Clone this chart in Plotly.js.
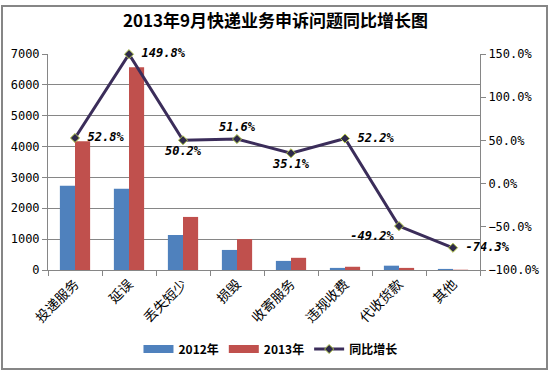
<!DOCTYPE html>
<html><head><meta charset="utf-8">
<script src="https://cdn.plot.ly/plotly-3.0.1.min.js"></script>
<style>html,body{margin:0;padding:0;background:#fff}#c{width:551px;height:375px}</style>
</head><body><div id="c"></div>
<script>
const categories = ["投递服务","延误","丢失短少","损毁","收寄服务","违规收费","代收货款","其他"];
const y2012 = [2730, 2630, 1135, 650, 295, 68, 140, 35];
const y2013 = [4170, 6570, 1720, 1000, 395, 105, 68, 9];
const growth = [52.8, 149.8, 50.2, 51.6, 35.1, 52.2, -49.2, -74.3];
const labelPos = ["middle right","middle right","bottom center","top center","bottom center","middle right","bottom left","middle right"];

const cjk = '"Noto Sans CJK SC", "DejaVu Sans", sans-serif';
const mono = '"DejaVu Sans Mono", monospace';
const data = [
  {type:'bar', name:'2012年', x:categories, y:y2012, marker:{color:'#4f81bd'}, showlegend:false},
  {type:'bar', name:'2013年', x:categories, y:y2013, marker:{color:'#c0504d'}, showlegend:false},
  {type:'scatter', mode:'lines', name:'2012年', x:[null], y:[null], line:{color:'#4f81bd', width:8}},
  {type:'scatter', mode:'lines', name:'2013年', x:[null], y:[null], line:{color:'#c0504d', width:8}},
  {type:'scatter', mode:'lines+markers+text', name:'同比增长', x:categories, y:growth, yaxis:'y2',
   text: growth.map((v,i) => (labelPos[i]==='middle right' ? ' ' : '') + v.toFixed(1) + '%'), textposition: labelPos,
   textfont:{family:mono, size:12, color:'#000', weight:'bold', style:'italic'},
   line:{color:'#3b2d5a', width:3},
   marker:{symbol:'diamond', size:7, color:'#2e2a4a', line:{color:'#b5c94c', width:1}},
   cliponaxis:false}
];
const layout = {
  width:551, height:375,
  margin:{l:48, r:71, t:54, b:105},
  paper_bgcolor:'#fff', plot_bgcolor:'#fff',
  font:{family:cjk, size:12, color:'#000'},
  title:{text:'<b>2013年9月快递业务申诉问题同比增长图</b>', x:0.5, xanchor:'center', y:0.945, yanchor:'middle',
         font:{family:cjk, size:17, color:'#000'}},
  barmode:'group', bargap:0.44, bargroupgap:0,
  showlegend:true,
  legend:{orientation:'h', x:0.515, xanchor:'center', y:-0.366, yanchor:'middle',
          font:{family:cjk, size:12, color:'#000', weight:'bold'}, bgcolor:'rgba(0,0,0,0)', itemwidth:30},
  xaxis:{type:'category', showline:true, linecolor:'#868686', ticks:'outside', tickson:'boundaries',
         ticklen:5, tickcolor:'#868686', tickangle:-45, showgrid:false,
         tickfont:{family:cjk, size:13.5, color:'#000'}},
  yaxis:{range:[0,7000], dtick:1000, showline:true, linecolor:'#868686', ticks:'outside', ticklen:5,
         tickcolor:'#868686', gridcolor:'#868686', gridwidth:1, zeroline:false,
         tickfont:{family:mono, size:12, color:'#000'}},
  yaxis2:{overlaying:'y', side:'right', range:[-100,150], dtick:50, tickformat:'.1f', ticksuffix:'%',
          showline:true, linecolor:'#868686', ticks:'outside', ticklen:5, tickcolor:'#868686',
          showgrid:false, zeroline:false,
          tickfont:{family:mono, size:12, color:'#000'}},
  shapes:[{type:'rect', xref:'paper', yref:'paper', x0:(2-48)/432, x1:(547-48)/432,
           y0:(270-369)/216, y1:(270-6)/216, line:{color:'#868686', width:2}, fillcolor:'rgba(0,0,0,0)'}]
};
Plotly.newPlot('c', data, layout, {displayModeBar:false, staticPlot:true});
</script></body></html>
